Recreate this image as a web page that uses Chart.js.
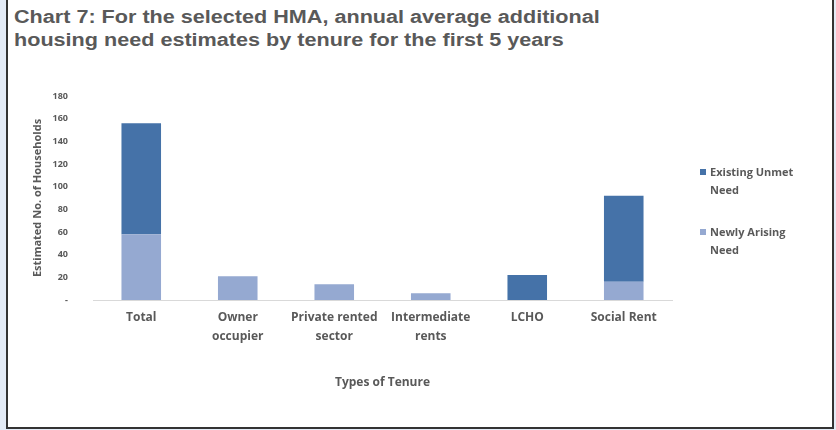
<!DOCTYPE html>
<html>
<head>
<meta charset="utf-8">
<script src="https://cdn.jsdelivr.net/npm/chart.js@4.4.0/dist/chart.umd.min.js"></script>
<style>
    html, body { margin: 0; padding: 0; background: #fff; }
    #page { position: relative; width: 836px; height: 430px; background: #e3ebf6; overflow: hidden; }
    #frame { position: absolute; left: 6px; top: -3px; width: 824px; height: 428px; background: #fff; border: 2px solid #333; }
    #title { position: absolute; left: 14px; top: 6px; font: bold 18px/23px "Liberation Sans", Arial, sans-serif; color: #595959; transform: scaleX(1.2); transform-origin: 0 0; white-space: nowrap; }
    #chart-box { position: absolute; left: 0; top: 0; width: 836px; height: 430px; }
    #legend { position: absolute; left: 700px; top: 163px; font: bold 11px/18px "Open Sans", sans-serif; color: #595959; }
    .item { position: absolute; left: 0; padding-left: 10px; white-space: nowrap; }
    .item span.box { position: absolute; left: 0; top: 6px; width: 6px; height: 6px; }
</style>
</head>
<body>
<div id="page">
    <div id="frame"></div>
    <div id="title">Chart 7: For the selected HMA, annual average additional<br>housing need estimates by tenure for the first 5 years</div>
    <div id="chart-box"><canvas id="chart" width="836" height="430"></canvas></div>
    <div id="legend"></div>
</div>
<script>
// Adatok
const categories = ['Total', ['Owner', 'occupier'], ['Private rented', 'sector'], ['Intermediate', 'rents'], 'LCHO', 'Social Rent'];
const newlyArising = [58, 21, 14, 6, 0, 16];
const existingUnmet = [98, 0, 0, 0, 22, 76];
const yTicks = [0, 20, 40, 60, 80, 100, 120, 140, 160, 180];
const legendLabels = [['Existing Unmet', 'Need'], ['Newly Arising', 'Need']];

const darkBlue = '#4572a8';
const lightBlue = '#95a9d1';
const textGrey = '#595959';
const fontFamily = '"Open Sans", sans-serif';

// Jelmagyarázat (HTML, két soros címkékkel)
const legendColors = [darkBlue, lightBlue];
const legendEl = document.getElementById('legend');
legendLabels.forEach((lines, i) => {
    const div = document.createElement('div');
    div.className = 'item';
    div.style.top = (i * 60) + 'px';
    div.innerHTML = '<span class="box" style="background:' + legendColors[i] + '"></span>' + lines.join('<br>');
    legendEl.appendChild(div);
});

const ctx = document.getElementById('chart').getContext('2d');
new Chart(ctx, {
    type: 'bar',
    data: {
        labels: categories,
        datasets: [
            {
                label: 'Newly Arising Need',
                data: newlyArising,
                backgroundColor: lightBlue,
                categoryPercentage: 1,
                barPercentage: 0.41
            },
            {
                label: 'Existing Unmet Need',
                data: existingUnmet,
                backgroundColor: darkBlue,
                categoryPercentage: 1,
                barPercentage: 0.41
            }
        ]
    },
    options: {
        responsive: false,
        animation: false,
        layout: {
            padding: { left: 31, right: 164, top: 96, bottom: 0 }
        },
        scales: {
            x: {
                stacked: true,
                grid: { display: false, drawTicks: false },
                border: { display: true, color: '#d9d9d9', width: 1 },
                afterFit: (scale) => { scale.height = 130; },
                ticks: {
                    color: textGrey,
                    font: { family: fontFamily, size: 12, weight: 'bold', lineHeight: 1.58 },
                    maxRotation: 0,
                    autoSkip: false,
                    padding: 8
                },
                title: {
                    display: true,
                    text: 'Types of Tenure',
                    color: textGrey,
                    font: { family: fontFamily, size: 12, weight: 'bold', lineHeight: 1.2 },
                    padding: { top: 0, bottom: 40 }
                }
            },
            y: {
                stacked: true,
                min: 0,
                max: 180,
                grid: { display: false, drawTicks: false },
                border: { display: false },
                afterFit: (scale) => { scale.width = 62; },
                afterBuildTicks: (axis) => {
                    axis.ticks = yTicks.map(v => ({ value: v }));
                },
                ticks: {
                    color: textGrey,
                    font: { family: fontFamily, size: 9, weight: 'bold' },
                    padding: 25,
                    callback: (value) => value === 0 ? '-' : value
                },
                title: {
                    display: true,
                    text: 'Estimated No. of Households',
                    color: textGrey,
                    font: { family: fontFamily, size: 11, weight: 'bold', lineHeight: 1.2 },
                    padding: { top: 0, bottom: 0 }
                }
            }
        },
        plugins: {
            legend: { display: false },
            tooltip: { enabled: false }
        }
    }
});
</script>
</body>
</html>
